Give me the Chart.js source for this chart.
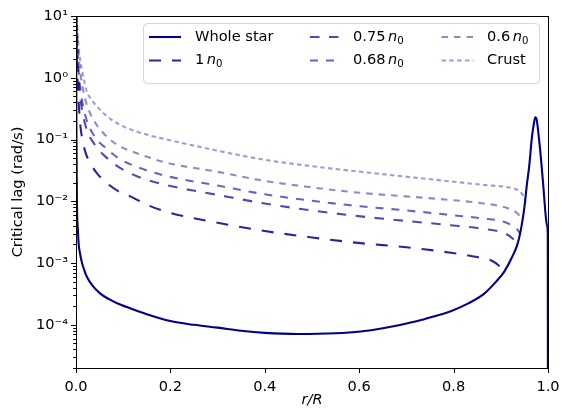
<!DOCTYPE html>
<html>
<head>
<meta charset="utf-8">
<script src="https://cdn.jsdelivr.net/npm/chart.js@4.4.1/dist/chart.umd.min.js"></script>
<style>
  html, body { margin: 0; padding: 0; background: #fff; }
  #wrap { width: 562px; height: 411px; }
</style>
</head>
<body>
<div id="wrap"><canvas id="myChart" width="562" height="411"></canvas></div>
<script>
// x ticks and y decade ticks
const xTicks = [0, 0.2, 0.4, 0.6, 0.8, 1.0];
const yTicks = [1e-4, 1e-3, 1e-2, 1e-1, 1, 10];
const yTickLabels = ['10\u207B\u2074', '10\u207B\u00B3', '10\u207B\u00B2', '10\u207B\u00B9', '10\u2070', '10\u00B9'];

// Whole star
const rWhole = [0, 0.0005, 0.001, 0.002, 0.004, 0.0055, 0.008, 0.0127, 0.018, 0.023, 0.035, 0.0515, 0.07, 0.087, 0.115, 0.143, 0.2, 0.25, 0.3, 0.35, 0.4, 0.47, 0.55, 0.603, 0.65, 0.7235, 0.76, 0.794, 0.83, 0.865, 0.89, 0.907, 0.925, 0.936, 0.944, 0.95, 0.955, 0.96, 0.966, 0.97, 0.973, 0.976, 0.98, 0.985, 0.99, 0.995, 0.998, 0.9995, 1.0];
const lagWhole = [30, 1.0, 0.1, 0.0093, 0.0035, 0.0021, 0.0015, 0.001, 7.5e-4, 6.0e-4, 4.3e-4, 3.2e-4, 2.6e-4, 2.24e-4, 1.85e-4, 1.55e-4, 1.15e-4, 1.0e-4, 9.0e-5, 8.0e-5, 7.4e-5, 7.1e-5, 7.3e-5, 7.8e-5, 8.8e-5, 1.15e-4, 1.38e-4, 1.66e-4, 2.2e-4, 3.2e-4, 5.0e-4, 7.2e-4, 1.3e-3, 2.1e-3, 4e-3, 8e-3, 0.018, 0.036, 0.11, 0.18, 0.23, 0.21, 0.12, 0.05, 0.018, 0.006, 0.004, 0.003, 1e-7];

// 1 n0
const r1 = [0, 0.002, 0.005, 0.01, 0.0127, 0.02, 0.03, 0.045, 0.066, 0.09, 0.115, 0.15, 0.193, 0.3, 0.4, 0.5, 0.603, 0.7, 0.794, 0.85, 0.88, 0.895, 0.907];
const lag1 = [30, 2.0, 0.5, 0.15, 0.11, 0.062, 0.042, 0.028, 0.0195, 0.0145, 0.012, 0.0088, 0.0067, 0.0045, 0.0033, 0.0026, 0.0021, 0.0018, 0.00147, 0.00125, 0.0011, 0.00092, 0.00072];

// 0.75 n0
const r075 = [0, 0.002, 0.005, 0.01, 0.02, 0.041, 0.066, 0.09, 0.129, 0.193, 0.3, 0.4, 0.5, 0.603, 0.7, 0.794, 0.86, 0.905, 0.925, 0.936];
const lag075 = [30, 3.5, 1.1, 0.42, 0.17, 0.08, 0.05, 0.036, 0.0255, 0.0182, 0.0127, 0.0092, 0.0071, 0.0057, 0.0048, 0.0041, 0.0036, 0.0031, 0.0025, 0.0019];

// 0.68 n0
const r068 = [0, 0.002, 0.005, 0.01, 0.02, 0.04, 0.066, 0.09, 0.129, 0.193, 0.3, 0.4, 0.5, 0.603, 0.7, 0.794, 0.86, 0.905, 0.925, 0.935, 0.941];
const lag068 = [30, 5, 1.5, 0.6, 0.24, 0.11, 0.07, 0.05, 0.036, 0.0255, 0.018, 0.013, 0.0102, 0.0083, 0.0071, 0.006, 0.0053, 0.0047, 0.004, 0.0035, 0.003];

// 0.6 n0
const r06 = [0, 0.002, 0.005, 0.01, 0.018, 0.027, 0.04, 0.066, 0.09, 0.129, 0.193, 0.3, 0.4, 0.5, 0.603, 0.7, 0.794, 0.86, 0.913, 0.935, 0.946];
const lag06 = [30, 7, 2.5, 1.1, 0.5, 0.3, 0.19, 0.11, 0.08, 0.06, 0.042, 0.030, 0.0214, 0.0168, 0.0137, 0.012, 0.0105, 0.0093, 0.0078, 0.0064, 0.005];

// Crust
const rCrust = [0, 0.002, 0.005, 0.009, 0.016, 0.023, 0.035, 0.0515, 0.075, 0.101, 0.15, 0.193, 0.3, 0.4, 0.5, 0.603, 0.7, 0.794, 0.86, 0.928, 0.94, 0.948, 0.953];
const lagCrust = [30, 8, 3.5, 1.9, 1.0, 0.6, 0.42, 0.30, 0.21, 0.162, 0.12, 0.1, 0.066, 0.047, 0.037, 0.030, 0.025, 0.021, 0.0185, 0.016, 0.0145, 0.012, 0.0095];

const legendLabels = [
    {pre: 'Whole star'},
    {pre: '1', it: 'n', sub: '0'},
    {pre: '0.75', it: 'n', sub: '0'},
    {pre: '0.68', it: 'n', sub: '0'},
    {pre: '0.6', it: 'n', sub: '0'},
    {pre: 'Crust'}
];

function pts(xs, ys) {
    const out = [];
    for (let k = 0; k < xs.length; k++) {
        out.push({x: xs[k], y: ys[k]});
    }
    return out;
}

function blue(a) {
    return 'rgba(0,0,139,' + a + ')';
}

const FONT = 'DejaVu Sans';
const LW = 2.1;

// frame, tick marks and the matplotlib-style legend
const framePlugin = {
    id: 'frame',
    afterDraw(chart) {
        const c = chart.ctx;
        const a = chart.chartArea;
        const xs = chart.scales.x;
        const ys = chart.scales.y;
        c.save();
        c.strokeStyle = '#000';
        c.lineWidth = 1;
        c.setLineDash([]);
        c.strokeRect(Math.round(a.left) + 0.5, Math.round(a.top) + 0.5, Math.round(a.right - a.left), Math.round(a.bottom - a.top));
        // x ticks
        c.beginPath();
        for (let k = 0; k < xTicks.length; k++) {
            const px = Math.round(xs.getPixelForValue(xTicks[k])) + 0.5;
            c.moveTo(px, a.bottom);
            c.lineTo(px, a.bottom + 5);
        }
        // y ticks major and minor
        for (let e = -5; e <= 1; e++) {
            for (let m = 1; m <= 9; m++) {
                const v = m * Math.pow(10, e);
                if (v < ys.min * 0.999 || v > ys.max * 1.001) continue;
                const py = Math.round(ys.getPixelForValue(v)) + 0.5;
                c.moveTo(a.left, py);
                c.lineTo(a.left - (m === 1 ? 5 : 2.8), py);
            }
        }
        c.stroke();

        // legend box
        const bx = 143.5, by = 23.5, bw = 396, bh = 60, rr = 4;
        c.beginPath();
        c.moveTo(bx + rr, by);
        c.lineTo(bx + bw - rr, by);
        c.quadraticCurveTo(bx + bw, by, bx + bw, by + rr);
        c.lineTo(bx + bw, by + bh - rr);
        c.quadraticCurveTo(bx + bw, by + bh, bx + bw - rr, by + bh);
        c.lineTo(bx + rr, by + bh);
        c.quadraticCurveTo(bx, by + bh, bx, by + bh - rr);
        c.lineTo(bx, by + rr);
        c.quadraticCurveTo(bx, by, bx + rr, by);
        c.fillStyle = 'rgba(255,255,255,0.8)';
        c.fill();
        c.strokeStyle = '#d6d6d6';
        c.lineWidth = 1;
        c.stroke();

        const colX = [149, 310, 441.5];
        const textX = [195, 353, 487];
        const rowY = [37, 60.5];
        const ds = chart.data.datasets;
        for (let i = 0; i < ds.length; i++) {
            const col = Math.floor(i / 2), row = i % 2;
            const y = rowY[row];
            c.beginPath();
            c.strokeStyle = ds[i].borderColor;
            c.lineWidth = LW;
            c.setLineDash(ds[i].borderDash || []);
            c.moveTo(colX[col], y);
            c.lineTo(colX[col] + 32, y);
            c.stroke();
            c.setLineDash([]);
            const lab = legendLabels[i];
            let tx = textX[col];
            c.fillStyle = '#000';
            c.textBaseline = 'middle';
            c.textAlign = 'left';
            c.font = '14.6px "' + FONT + '"';
            c.fillText(lab.pre, tx, y);
            tx += c.measureText(lab.pre).width;
            if (lab.it) {
                tx += 2.5;
                c.font = 'italic 14.6px "' + FONT + '"';
                c.fillText(lab.it, tx, y);
                tx += c.measureText(lab.it).width;
                c.font = '10.2px "' + FONT + '"';
                c.fillText(lab.sub, tx, y + 4);
            }
        }
        c.restore();
    }
};

const ctx = document.getElementById('myChart');
new Chart(ctx, {
    type: 'line',
    data: {
        datasets: [{
            label: 'Whole star',
            data: pts(rWhole, lagWhole),
            borderColor: blue(1),
            borderWidth: LW
        }, {
            label: '1 n0',
            data: pts(r1, lag1),
            borderColor: blue(0.85),
            borderWidth: LW,
            borderDash: [12, 11]
        }, {
            label: '0.75 n0',
            data: pts(r075, lag075),
            borderColor: blue(0.7),
            borderWidth: LW,
            borderDash: [9.5, 9.5]
        }, {
            label: '0.68 n0',
            data: pts(r068, lag068),
            borderColor: blue(0.6),
            borderWidth: LW,
            borderDash: [8, 8]
        }, {
            label: '0.6 n0',
            data: pts(r06, lag06),
            borderColor: blue(0.45),
            borderWidth: LW,
            borderDash: [6.5, 6]
        }, {
            label: 'Crust',
            data: pts(rCrust, lagCrust),
            borderColor: blue(0.38),
            borderWidth: LW,
            borderDash: [4.5, 3.3]
        }]
    },
    options: {
        responsive: false,
        animation: false,
        events: [],
        elements: {
            point: { radius: 0 },
            line: { cubicInterpolationMode: 'monotone', fill: false }
        },
        layout: { padding: { left: 0, right: 14, top: 16, bottom: 0 } },
        plugins: {
            legend: { display: false },
            tooltip: { enabled: false }
        },
        scales: {
            x: {
                type: 'linear',
                min: 0,
                max: 1,
                afterBuildTicks: function(scale) {
                    scale.ticks = xTicks.map(v => ({value: v}));
                },
                afterFit: function(scale) {
                    scale.height = 43;
                    scale.paddingLeft = 0;
                    scale.paddingRight = 0;
                },
                grid: { display: false, drawTicks: false },
                border: { display: false },
                ticks: {
                    color: '#000',
                    padding: 10,
                    maxRotation: 0,
                    font: { family: FONT, size: 14.6 },
                    callback: function(v) { return v.toFixed(1); }
                },
                title: {
                    display: true,
                    text: 'r/R',
                    color: '#000',
                    padding: { top: 0, bottom: 2 },
                    font: { family: FONT, size: 14.6, style: 'italic' }
                }
            },
            y: {
                type: 'logarithmic',
                min: 2e-5,
                max: 10,
                afterBuildTicks: function(scale) {
                    scale.ticks = yTicks.map(v => ({value: v}));
                },
                afterFit: function(scale) {
                    scale.width = 76;
                    scale.paddingTop = 0;
                    scale.paddingBottom = 0;
                },
                grid: { display: false, drawTicks: false },
                border: { display: false },
                ticks: {
                    color: '#000',
                    padding: 8,
                    font: { family: FONT, size: 14.6 },
                    callback: function(v) {
                        const k = yTicks.indexOf(v);
                        return k >= 0 ? yTickLabels[k] : '';
                    }
                },
                title: {
                    display: true,
                    text: 'Critical lag (rad/s)',
                    color: '#000',
                    padding: { top: 9, bottom: 0 },
                    font: { family: FONT, size: 14.6 }
                }
            }
        }
    },
    plugins: [framePlugin]
});
</script>
</body>
</html>
